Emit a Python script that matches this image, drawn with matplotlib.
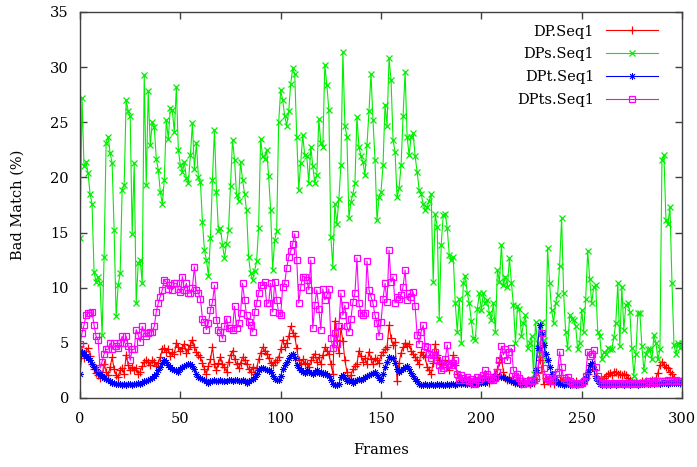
""" Bad match per frame for the four DP variants on Seq1 """

import numpy as np
from matplotlib import pyplot as plt

# frame index 0..300
frames = np.arange(301)

dp_seq1 = [
    4.7, 4.2, 3.6, 4.3, 4.5, 3.8, 3.1, 2.6, 2.3, 2.1,
    1.8, 2.1, 3.1, 2.4, 2.1, 2.8, 3.7, 2.6, 2.1, 1.9,
    2.5, 2.7, 2.2, 3.9, 3.0, 2.5, 2.8, 2.5, 2.7, 2.2,
    2.4, 2.9, 3.3, 3.4, 3.3, 3.0, 3.4, 3.3, 2.9, 3.2,
    3.7, 4.4, 4.5, 4.2, 4.4, 3.8, 4.2, 4.0, 5.0, 4.6,
    4.3, 4.5, 4.9, 4.1, 4.4, 4.8, 5.3, 4.6, 4.2, 3.9,
    3.7, 3.2, 2.6, 2.2, 2.9, 3.5, 4.6, 3.1, 2.5, 3.2,
    3.7, 3.1, 2.8, 2.4, 3.3, 3.9, 4.3, 3.5, 3.1, 2.7,
    3.2, 3.7, 3.4, 3.1, 2.6, 2.4, 2.8, 2.2, 2.7, 3.5,
    4.1, 4.6, 4.3, 4.0, 3.6, 3.2, 3.0, 3.3, 3.4, 3.7,
    4.4, 5.3, 4.6, 5.0, 5.6, 6.5, 5.9, 5.6, 4.5, 3.4,
    3.1, 3.5, 3.2, 3.1, 2.8, 3.4, 3.7, 4.0, 3.3, 3.7,
    3.1, 3.9, 4.6, 4.3, 4.0, 3.1, 2.2, 7.0, 5.3, 4.1,
    6.3, 5.2, 3.4, 2.4, 1.6, 2.1, 2.6, 2.9, 3.1, 4.3,
    3.8, 3.3, 3.6, 3.1, 4.2, 3.5, 3.1, 3.6, 3.4, 3.2,
    3.9, 4.2, 4.4, 4.6, 6.6, 5.4, 4.8, 5.1, 1.5, 3.2,
    4.1, 4.6, 5.0, 4.7, 4.9, 4.3, 4.0, 3.7, 3.4, 3.1,
    4.2, 3.9, 3.7, 2.8, 2.5, 2.2, 3.2, 4.9, 3.9, 3.4,
    3.1, 3.0, 3.4, 2.8, 2.5, 3.1, 3.9, 3.0, 2.2, 1.8,
    1.6, 1.5, 1.8, 1.4, 1.6, 1.3, 1.5, 1.7, 1.4, 1.6,
    1.8, 1.5, 2.0, 1.6, 1.4, 1.7, 1.9, 2.2, 2.6, 3.3,
    3.6, 2.4, 1.8, 1.6, 1.9, 1.5, 1.7, 1.4, 1.6, 1.5,
    1.3, 1.5, 1.4, 1.6, 1.3, 1.5, 1.4, 1.7, 2.4, 3.4,
    4.6, 1.3, 1.8, 1.5, 1.4, 1.6, 1.3, 1.5, 1.4, 1.6,
    1.5, 1.3, 1.4, 1.6, 1.5, 1.3, 1.4, 1.5, 1.3, 1.4,
    1.5, 1.6, 1.8, 2.2, 2.6, 2.9, 2.5, 2.0, 1.7, 1.5,
    1.6, 1.8, 2.0, 2.2, 2.3, 2.1, 2.4, 2.4, 2.2, 2.2,
    2.1, 2.2, 2.1, 1.8, 1.6, 1.5, 1.4, 1.5, 1.3, 1.4,
    1.5, 1.4, 1.5, 1.4, 1.5, 1.6, 1.5, 1.8, 2.3, 3.0,
    3.3, 3.0, 2.8, 2.7, 2.4, 2.2, 1.8, 1.5, 1.5, 1.4,
    1.5,
]

dps_seq1 = [
    14.5, 27.2, 21.0, 21.4, 20.4, 18.5, 17.6, 11.4, 10.5, 11.0,
    10.4, 5.7, 12.8, 23.1, 23.7, 22.2, 21.3, 15.2, 7.4, 10.2,
    11.3, 18.9, 19.3, 27.0, 26.0, 25.6, 14.9, 21.3, 8.6, 12.2,
    12.5, 10.4, 29.3, 19.3, 27.8, 22.9, 25.0, 24.6, 21.7, 20.7,
    18.7, 17.6, 19.8, 25.2, 23.5, 26.3, 26.1, 24.1, 28.2, 22.5,
    21.1, 20.5, 21.4, 19.9, 19.5, 22.0, 24.9, 20.8, 23.1, 20.0,
    19.6, 16.0, 13.4, 12.5, 11.1, 14.5, 19.8, 24.3, 18.7, 15.1,
    15.4, 13.9, 12.7, 14.0, 15.2, 19.2, 23.4, 21.6, 18.4, 17.9,
    21.4, 19.8, 18.5, 17.0, 12.8, 11.3, 10.7, 11.5, 12.4, 15.4,
    23.5, 21.9, 21.7, 22.5, 20.1, 17.0, 11.6, 14.3, 15.1, 25.0,
    27.9, 27.0, 25.6, 24.7, 26.0, 28.5, 29.9, 29.4, 23.7, 18.9,
    21.3, 23.8, 22.0, 21.9, 19.5, 22.8, 21.0, 19.5, 20.2, 25.3,
    23.1, 22.8, 30.2, 28.4, 26.1, 14.6, 11.9, 17.6, 15.8, 18.0,
    21.1, 31.4, 24.7, 23.7, 16.3, 17.8, 18.5, 19.5, 25.5, 22.8,
    21.9, 21.4, 20.2, 22.9, 26.0, 29.4, 25.2, 21.6, 16.1, 18.2,
    18.7, 21.1, 26.6, 24.7, 30.8, 28.8, 23.4, 22.3, 18.2, 19.0,
    21.1, 25.6, 29.6, 23.7, 22.0, 23.7, 24.0, 21.9, 20.5, 18.9,
    18.5, 17.6, 17.0, 17.3, 17.9, 18.5, 10.5, 16.7, 15.5, 7.2,
    13.9, 16.6, 16.7, 15.4, 13.0, 12.5, 12.8, 8.6, 6.0, 9.0,
    5.0, 10.4, 11.1, 9.5, 8.6, 7.0, 5.4, 5.3, 8.1, 9.5,
    8.0, 9.5, 8.6, 8.9, 7.7, 7.1, 8.6, 6.0, 11.6, 10.5,
    13.9, 10.2, 11.0, 10.1, 12.7, 10.4, 8.4, 5.0, 8.3, 8.1,
    5.6, 6.8, 7.5, 4.5, 5.0, 5.6, 2.2, 6.9, 5.0, 4.0,
    6.9, 5.3, 3.4, 13.6, 10.4, 8.0, 6.8, 8.6, 9.3, 12.0,
    16.3, 9.5, 6.0, 4.5, 7.5, 7.2, 7.1, 6.5, 4.4, 5.0,
    8.0, 6.0, 9.0, 13.3, 10.8, 8.6, 10.1, 10.2, 6.0, 5.6,
    3.5, 4.2, 4.0, 4.5, 4.4, 4.4, 5.5, 6.8, 10.4, 4.7,
    10.1, 6.2, 8.4, 8.6, 7.8, 4.5, 2.0, 4.0, 7.7, 7.7,
    4.7, 2.5, 4.0, 4.4, 4.4, 3.5, 5.7, 5.0, 3.5, 4.4,
    21.6, 22.0, 16.1, 15.8, 17.3, 10.4, 4.8, 4.0, 5.0, 4.5,
    5.0,
]

dpt_seq1 = [
    2.2, 4.2, 4.0, 3.8, 3.6, 3.4, 3.1, 2.8, 2.6, 2.4,
    2.2, 2.0, 1.8, 1.7, 1.6, 1.5, 1.4, 1.4, 1.3, 1.3,
    1.3, 1.2, 1.3, 1.2, 1.3, 1.3, 1.2, 1.3, 1.3, 1.4,
    1.3, 1.4, 1.5, 1.5, 1.6, 1.7, 1.8, 2.0, 2.2, 2.5,
    2.8, 3.2, 3.4, 3.3, 3.0, 2.8, 2.6, 2.5, 2.5, 2.4,
    2.6, 2.8, 2.9, 3.0, 3.1, 3.1, 2.9, 2.6, 2.2, 1.9,
    1.8, 1.7, 1.6, 1.5, 1.4, 1.5, 1.5, 1.6, 1.5, 1.5,
    1.6, 1.5, 1.5, 1.5, 1.6, 1.6, 1.5, 1.6, 1.6, 1.5,
    1.5, 1.6, 1.5, 1.4, 1.5, 1.6, 1.7, 1.9, 2.2, 2.5,
    2.7, 2.7, 2.6, 2.5, 2.5, 2.4, 2.0, 1.7, 1.6, 1.6,
    2.0, 2.6, 3.0, 3.3, 3.6, 3.9, 4.0, 3.6, 3.0, 2.7,
    2.5, 2.4, 2.3, 2.5, 2.4, 2.3, 2.2, 2.4, 2.5, 2.3,
    2.4, 2.2, 2.3, 2.1, 2.0, 1.6, 1.3, 1.2, 1.2, 1.3,
    1.9, 2.1, 1.8, 1.5, 1.5, 1.6, 1.4, 1.5, 1.6, 1.7,
    1.6, 1.7, 1.9, 2.0, 2.1, 2.2, 2.3, 2.4, 2.1, 1.8,
    1.6, 2.2, 2.8, 3.3, 3.7, 3.6, 3.6, 3.2, 2.6, 2.4,
    2.5, 2.6, 2.8, 2.9, 2.6, 2.3, 2.0, 1.7, 1.5, 1.3,
    1.2, 1.2, 1.3, 1.2, 1.2, 1.3, 1.2, 1.2, 1.3, 1.2,
    1.3, 1.2, 1.2, 1.3, 1.2, 1.3, 1.3, 1.2, 1.3, 1.4,
    1.3, 1.4, 1.3, 1.3, 1.4, 1.3, 1.4, 1.3, 1.4, 1.4,
    1.4, 1.5, 1.4, 1.5, 1.5, 1.6, 1.7, 1.8, 1.9, 2.0,
    1.9, 1.9, 1.8, 1.7, 1.6, 1.5, 1.5, 1.4, 1.4, 1.3,
    1.3, 1.4, 1.3, 1.4, 1.3, 1.4, 1.5, 2.5, 4.5, 6.6,
    5.8, 4.8, 4.0, 3.4, 2.8, 2.2, 1.8, 1.5, 1.4, 1.3,
    1.3, 1.2, 1.3, 1.3, 1.2, 1.3, 1.3, 1.2, 1.3, 1.3,
    1.4, 1.5, 1.8, 2.4, 3.0, 3.2, 2.6, 1.8, 1.5, 1.3,
    1.2, 1.3, 1.2, 1.3, 1.2, 1.3, 1.3, 1.2, 1.3, 1.3,
    1.3, 1.2, 1.3, 1.3, 1.2, 1.3, 1.3, 1.3, 1.2, 1.3,
    1.3, 1.3, 1.4, 1.3, 1.3, 1.4, 1.3, 1.4, 1.4, 1.3,
    1.4, 1.4, 1.4, 1.3, 1.4, 1.4, 1.4, 1.4, 1.4, 1.4,
    1.4,
]

dpts_seq1 = [
    4.9, 5.9, 6.6, 7.5, 7.7, 7.7, 7.8, 6.6, 5.6, 5.3,
    2.7, 3.3, 4.0, 4.4, 4.4, 5.0, 4.4, 5.0, 4.7, 4.5,
    5.0, 5.6, 5.0, 5.6, 4.7, 3.4, 4.4, 4.4, 6.2, 5.7,
    5.1, 6.5, 5.9, 5.6, 5.9, 6.0, 6.0, 6.5, 7.8, 8.6,
    9.2, 9.8, 10.7, 10.5, 9.9, 10.2, 9.8, 10.4, 10.4, 9.9,
    9.6, 11.0, 9.8, 10.4, 9.5, 9.5, 10.0, 11.9, 9.8, 9.5,
    9.0, 7.2, 6.9, 6.2, 6.8, 8.0, 8.7, 10.2, 7.1, 6.2,
    6.0, 5.4, 6.5, 7.2, 6.3, 6.3, 6.2, 8.3, 6.3, 6.8,
    7.7, 10.4, 8.9, 7.5, 6.9, 6.6, 6.0, 7.8, 8.6, 9.5,
    10.2, 10.2, 10.5, 8.6, 8.6, 10.4, 7.8, 10.5, 8.9, 7.7,
    7.5, 10.1, 10.4, 11.8, 12.8, 13.3, 14.0, 14.9, 12.5, 8.6,
    10.1, 11.0, 11.0, 10.7, 9.8, 12.5, 6.3, 8.4, 9.8, 8.1,
    6.2, 9.9, 8.9, 9.3, 9.9, 5.4, 4.5, 5.9, 4.9, 6.5,
    9.5, 7.5, 8.4, 6.5, 6.0, 7.2, 8.7, 9.5, 12.7, 8.6,
    7.7, 7.5, 7.7, 12.4, 9.8, 9.2, 8.6, 7.5, 6.8, 5.6,
    6.9, 9.0, 10.4, 8.7, 13.4, 10.5, 11.0, 8.6, 9.2, 9.0,
    9.3, 10.1, 11.6, 8.9, 9.5, 9.2, 9.6, 8.3, 5.7, 4.9,
    6.0, 6.6, 4.7, 4.6, 4.0, 3.6, 3.9, 4.2, 3.4, 3.0,
    2.5, 2.7, 3.5, 4.8, 3.1, 3.0, 3.2, 3.4, 2.2, 1.6,
    2.1, 1.8, 1.6, 1.9, 1.5, 1.7, 1.4, 1.3, 1.9, 1.6,
    1.8, 2.1, 2.5, 2.2, 1.9, 1.7, 1.6, 1.8, 2.4, 3.4,
    4.7, 3.9, 4.4, 3.4, 4.2, 4.5, 2.5, 2.0, 2.2, 1.8,
    1.5, 1.3, 1.5, 1.4, 1.6, 1.5, 1.6, 1.8, 2.5, 4.0,
    5.9, 2.7, 1.9, 1.7, 1.6, 1.5, 1.8, 2.2, 2.4, 4.2,
    2.8, 1.8, 1.6, 1.9, 1.5, 1.4, 1.3, 1.3, 1.4, 1.3,
    1.4, 1.5, 2.0, 4.2, 3.8, 4.0, 4.35, 2.8, 2.0, 1.6,
    1.4, 1.3, 1.4, 1.3, 1.4, 1.3, 1.4, 1.4, 1.3, 1.4,
    1.4, 1.3, 1.4, 1.4, 1.3, 1.4, 1.4, 1.3, 1.4, 1.4,
    1.4, 1.4, 1.4, 1.5, 1.4, 1.4, 1.5, 1.4, 1.5, 1.5,
    1.5, 1.5, 1.5, 1.6, 1.5, 1.5, 1.5, 1.6, 1.5, 1.5,
    1.5,
]

x_ticks = [0, 50, 100, 150, 200, 250, 300]
y_ticks = [0, 5, 10, 15, 20, 25, 30, 35]

plt.rcParams["font.family"] = ["DejaVu Serif"]

fig = plt.figure(figsize=(6.97, 4.67), dpi=100)
ax = fig.add_axes([0.1148, 0.1478, 0.8637, 0.8266])

# gnuplot-like linespoints, drawn in the same order as the original
ax.plot(frames, dp_seq1, color="#ff0000", lw=0.8, marker="+",
        ms=6, mew=0.9, label="DP.Seq1")
ax.plot(frames, dps_seq1, color="#00ee00", lw=0.8, marker="x",
        ms=5, mew=0.9, label="DPs.Seq1")
ax.plot(frames, dpt_seq1, color="#0000ff", lw=0.8, marker=(8, 2, 0),
        ms=5, mew=0.6, label="DPt.Seq1")
ax.plot(frames, dpts_seq1, color="#ff00ff", lw=0.8, marker="s",
        ms=5, mew=0.9, mfc="none", label="DPts.Seq1")

ax.set_xlim(0, 300)
ax.set_ylim(0, 35)
ax.set_xticks(x_ticks)
ax.set_yticks(y_ticks)
ax.tick_params(direction="in", top=True, right=True, length=5,
               width=1, color="#404040", labelsize=10.5)
ax.tick_params(axis="x", pad=10)
ax.tick_params(axis="y", pad=8)
for spine in ax.spines.values():
    spine.set_color("#404040")
    spine.set_linewidth(1)

ax.set_xlabel("Frames", fontsize=10.5, labelpad=12)
ax.set_ylabel("Bad Match (%)", fontsize=10.5, labelpad=18)

ax.legend(loc="upper right", bbox_to_anchor=(0.975, 0.99), frameon=False,
          markerfirst=False, fontsize=10.5, handlelength=3.6,
          handletextpad=0.8, labelspacing=0.6, borderaxespad=0.2)

fig.savefig("out.png", dpi=100)
